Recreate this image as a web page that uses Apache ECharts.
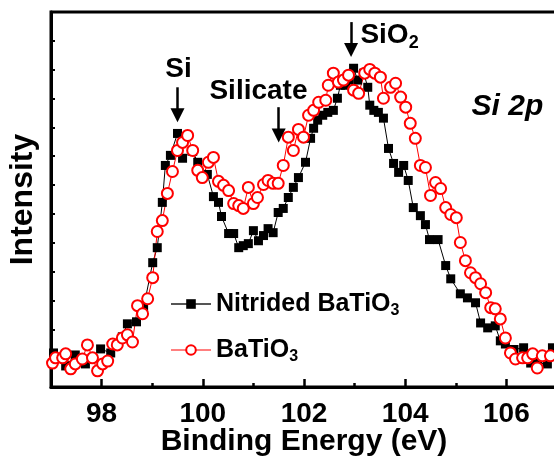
<!DOCTYPE html>
<html><head><meta charset="utf-8">
<script src="https://cdn.jsdelivr.net/npm/echarts@6/dist/echarts.min.js"></script>
<style>html,body{margin:0;padding:0;background:#fff}#c{width:554px;height:457px}</style>
</head><body><div id="c"></div>
<script>
// Binding energy (eV) and intensity (a.u.)
const nitridedEnergy = [97.05, 97.29, 97.48, 97.68, 97.98, 98.18, 98.41, 98.51, 98.69, 98.83, 99.01, 99.10, 99.20, 99.26, 99.36, 99.50, 99.60, 99.80, 99.90, 100.09, 100.21, 100.31, 100.37, 100.51, 100.61, 100.71, 100.80, 100.90, 101.00, 101.10, 101.20, 101.29, 101.39, 101.49, 101.59, 101.69, 101.79, 101.89, 102.03, 102.13, 102.19, 102.27, 102.37, 102.47, 102.58, 102.66, 102.72, 102.82, 102.88, 102.98, 103.06, 103.18, 103.26, 103.30, 103.38, 103.47, 103.57, 103.67, 103.77, 103.87, 103.97, 104.06, 104.16, 104.30, 104.40, 104.48, 104.65, 104.80, 104.90, 105.09, 105.23, 105.39, 105.49, 105.63, 105.78, 105.88, 105.98, 106.15, 106.34, 106.48, 106.62, 106.81, 106.91];
const nitridedIntensity = [118, 73, 111, 80, 132, 118, 174, 219, 226, 275, 431, 483, 640, 768, 803, 879, 793, 817, 779, 737, 660, 640, 591, 532, 532, 483, 490, 497, 542, 507, 525, 549, 535, 605, 619, 657, 692, 726, 779, 862, 897, 925, 942, 952, 959, 1001, 1046, 1046, 1064, 1105, 1064, 1088, 1039, 977, 959, 952, 932, 827, 775, 744, 768, 716, 622, 594, 563, 511, 511, 421, 375, 323, 309, 292, 222, 205, 212, 160, 149, 130, 136, 83, 83, 80, 136];
const pristineEnergy = [97.03, 97.09, 97.23, 97.29, 97.39, 97.48, 97.62, 97.72, 97.82, 97.92, 98.02, 98.12, 98.22, 98.31, 98.41, 98.51, 98.61, 98.71, 98.81, 98.91, 99.01, 99.10, 99.20, 99.30, 99.40, 99.50, 99.60, 99.70, 99.80, 99.90, 99.99, 100.11, 100.21, 100.31, 100.41, 100.51, 100.61, 100.71, 100.80, 100.90, 101.00, 101.08, 101.20, 101.29, 101.39, 101.49, 101.59, 101.69, 101.79, 101.89, 101.99, 102.09, 102.19, 102.29, 102.43, 102.48, 102.58, 102.68, 102.78, 102.88, 102.98, 103.08, 103.20, 103.30, 103.40, 103.51, 103.57, 103.71, 103.81, 103.91, 104.01, 104.10, 104.20, 104.30, 104.40, 104.50, 104.60, 104.70, 104.80, 104.90, 105.01, 105.09, 105.19, 105.29, 105.39, 105.49, 105.59, 105.69, 105.78, 105.88, 105.98, 106.08, 106.18, 106.32, 106.42, 106.52, 106.61, 106.71, 106.87];
const pristineIntensity = [83, 101, 101, 115, 63, 80, 97, 146, 101, 56, 80, 90, 149, 146, 170, 181, 156, 282, 254, 306, 379, 539, 577, 671, 747, 820, 848, 872, 820, 751, 726, 779, 796, 713, 699, 681, 636, 629, 619, 692, 636, 657, 702, 716, 706, 706, 768, 866, 820, 893, 866, 942, 959, 987, 994, 1046, 1088, 1057, 1064, 1081, 1029, 1018, 1088, 1101, 1088, 1074, 1001, 1039, 1053, 1005, 970, 914, 862, 768, 761, 664, 709, 688, 622, 598, 587, 501, 438, 396, 379, 358, 327, 275, 271, 236, 170, 118, 97, 101, 101, 115, 66, 108, 108];
const majorTicks = [98, 100, 102, 104, 106];
const minorTicks = [99, 101, 103, 105];
const seriesNames = ['Nitrided BaTiO3', 'BaTiO3'];
// annotation labels: [text, energy, intensity]
const peakLabels = [['Si', 99.52, 1102], ['Silicate', 101.10, 1025], ['SiO2', 103.69, 1220], ['Si 2p', 106.02, 973]];
// arrows: [energy, start intensity, end intensity]
const peakArrows = [[99.50, 1039, 942], [101.50, 970, 872], [102.93, 1265, 1168]];

const FONT = 'Liberation Sans, Arial, sans-serif';
const zip = (xs, ys) => xs.map((x, i) => [x, ys[i]]);
const chart = echarts.init(document.getElementById('c'));

const labelData = peakLabels.map(([t, x, y]) => {
  let fmt = t, extra = {};
  if (t === 'SiO2') fmt = '{m|SiO}{s|2}';
  if (t === 'Si 2p') extra = { fontStyle: 'italic', fontSize: 30 };
  return { coord: [x, y], label: Object.assign({ formatter: fmt }, extra) };
});
const arrowData = peakArrows.map(([x, y1, y2]) => [{ coord: [x, y1] }, { coord: [x, y2] }]);

chart.setOption({
  animation: false,
  backgroundColor: '#fff',
  grid: { left: 51, right: -3, top: 12, bottom: 70, show: true, borderColor: '#000', borderWidth: 3, backgroundColor: 'transparent', containLabel: false, outerBoundsMode: 'none' },
  xAxis: [{
    type: 'value', min: 97, max: 107,
    name: 'Binding Energy (eV)', nameLocation: 'middle', nameGap: 40, nameMoveOverlap: false,
    nameTextStyle: { fontFamily: FONT, fontWeight: 'bold', fontSize: 30, color: '#000' },
    axisLine: { show: true, lineStyle: { color: '#000', width: 3 } },
    axisTick: { inside: true, length: 8, lineStyle: { color: '#000', width: 2.5 }, customValues: majorTicks },
    axisLabel: { fontFamily: FONT, fontWeight: 'bold', fontSize: 28, color: '#000', margin: 13, customValues: majorTicks },
    splitLine: { show: false }
  }, {
    type: 'value', min: 97, max: 107, position: 'bottom',
    axisLine: { show: false },
    axisTick: { inside: true, length: 4, lineStyle: { color: '#000', width: 2.5 }, customValues: minorTicks },
    axisLabel: { show: false },
    splitLine: { show: false }
  }],
  yAxis: {
    type: 'value', min: 0, max: 1300, interval: 100,
    name: 'Intensity', nameLocation: 'middle', nameGap: 12, nameMoveOverlap: false,
    nameTextStyle: { fontFamily: FONT, fontWeight: 'bold', fontSize: 32, color: '#000' },
    axisLine: { show: true, lineStyle: { color: '#000', width: 3 } },
    axisTick: { inside: true, length: 4, lineStyle: { color: '#000', width: 2 } },
    axisLabel: { show: false },
    splitLine: { show: false }
  },
  legend: {
    orient: 'vertical', left: 165, top: 284,
    itemWidth: 40, itemHeight: 12, itemGap: 16,
    data: [
      { name: seriesNames[0], lineStyle: { color: '#555', width: 2 } },
      { name: seriesNames[1], lineStyle: { color: '#f00', width: 1 } }
    ],
    formatter: n => '{m|' + n.slice(0, -1) + '}{s|3}',
    textStyle: {
      color: '#000',
      rich: {
        m: { fontFamily: FONT, fontWeight: 'bold', fontSize: 25, color: '#000', lineHeight: 30 },
        s: { fontFamily: FONT, fontWeight: 'bold', fontSize: 16, color: '#000', lineHeight: 30, padding: [14, 0, 0, 0] }
      }
    }
  },
  series: [{
    name: seriesNames[0], type: 'line', xAxisIndex: 0,
    data: zip(nitridedEnergy, nitridedIntensity),
    symbol: 'rect', symbolSize: 9,
    itemStyle: { color: '#000' },
    lineStyle: { color: '#000', width: 1 },
    markLine: {
      silent: true, symbol: ['none', 'triangle'], symbolSize: 14,
      lineStyle: { color: '#000', width: 2.5, type: 'solid' },
      label: { show: false },
      data: arrowData
    },
    markPoint: {
      silent: true, symbol: 'circle', symbolSize: 1,
      itemStyle: { color: 'rgba(0,0,0,0)' },
      label: {
        show: true, position: 'inside', color: '#000', fontFamily: FONT, fontWeight: 'bold', fontSize: 28,
        rich: {
          m: { fontFamily: FONT, fontWeight: 'bold', fontSize: 28, color: '#000', lineHeight: 34 },
          s: { fontFamily: FONT, fontWeight: 'bold', fontSize: 18, color: '#000', lineHeight: 34, padding: [16, 0, 0, 0] }
        }
      },
      data: labelData
    }
  }, {
    name: seriesNames[1], type: 'line', xAxisIndex: 0,
    data: zip(pristineEnergy, pristineIntensity),
    symbol: 'emptyCircle', symbolSize: 11,
    itemStyle: { color: '#f00', borderColor: '#f00', borderWidth: 1.2 },
    lineStyle: { color: '#f00', width: 1 }
  }]
});
</script></body></html>
